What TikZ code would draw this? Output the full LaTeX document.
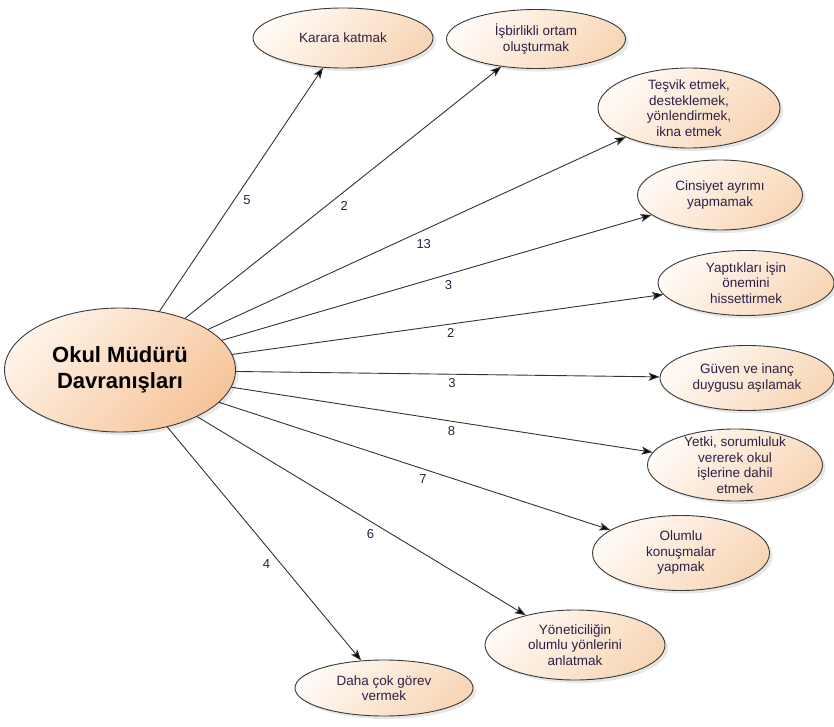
\documentclass[tikz,border=0pt]{standalone}
\usepackage{fontspec}
\setmainfont{Liberation Sans}
\usepackage{xcolor}
\usetikzlibrary{shapes.geometric, shadows, arrows.meta}

\definecolor{rim}{HTML}{3A3A3A}
\definecolor{ink}{HTML}{2E1F45}
\definecolor{peachhi}{HTML}{FFFAF5}
\definecolor{peachlo}{HTML}{F8D6B6}
\definecolor{roothi}{HTML}{FEF3E8}
\definecolor{rootlo}{HTML}{F7C49A}

\tikzset{
    topic/.style={ellipse, draw=rim, line width=0.9pt, inner sep=0pt,
        top color=peachhi, bottom color=peachlo, shading angle=45,
        drop shadow={shadow xshift=3pt, shadow yshift=-3pt, opacity=0.2}},
    topictext/.style={align=center, text=ink, font=\fontsize{13.5}{15.5}\selectfont},
    root/.style={topic, top color=roothi, bottom color=rootlo, shading angle=45,
        minimum width=231pt, minimum height=124pt, align=center,
        font=\bfseries\fontsize{22}{26}\selectfont},
    link/.style={draw=black!80, line width=0.9pt, -{Stealth[length=11pt, width=8pt, inset=2.5pt]},
        auto=right, every node/.style={text=ink, font=\fontsize{13}{15}\selectfont}}
}

\begin{document}
\begin{tikzpicture}[x=1pt, y=-1pt]
        \useasboundingbox (0,0) rectangle (834,727);

        \node[root] (0) at (120,370) {Okul Müdürü\\Davranışları};

        \node[topic, minimum width=180pt, minimum height=60pt,
            label={[topictext]center:Karara katmak}] (1) at (343,38) {};
        \node[topic, minimum width=179pt, minimum height=59pt,
            label={[topictext]center:{İşbirlikli ortam\\oluşturmak}}] (2) at (536,39) {};
        \node[topic, minimum width=182pt, minimum height=80pt,
            label={[topictext]center:{Teşvik etmek,\\desteklemek,\\yönlendirmek,\\ikna etmek}}] (3) at (689,108) {};
        \node[topic, minimum width=165pt, minimum height=70pt,
            label={[topictext]center:{Cinsiyet ayrımı\\yapmamak}}] (4) at (720,195) {};
        \node[topic, minimum width=176pt, minimum height=65pt,
            label={[topictext]center:{Yaptıkları işin\\önemini\\hissettirmek}}] (5) at (746,283) {};
        \node[topic, minimum width=174pt, minimum height=65pt,
            label={[topictext]center:{Güven ve inanç\\duygusu aşılamak}}] (6) at (747,378) {};
        \node[topic, minimum width=175pt, minimum height=72pt,
            label={[topictext]center:{Yetki, sorumluluk\\vererek okul\\işlerine dahil\\etmek}}] (7) at (735,465) {};
        \node[topic, minimum width=177pt, minimum height=75pt,
            label={[topictext]center:{Olumlu\\konuşmalar\\yapmak}}] (8) at (681,553) {};
        \node[topic, minimum width=180pt, minimum height=70pt,
            label={[topictext]center:{Yöneticiliğin\\olumlu yönlerini\\anlatmak}}] (9) at (575,645) {};
        \node[topic, minimum width=178pt, minimum height=56pt,
            label={[topictext]center:{Daha çok görev\\vermek}}] (10) at (384,688) {};

        \draw[link]
            (0) edge node[pos=.49] {5} (1)
            (0) edge node[pos=.48] {2} (2)
            (0) edge node[pos=.49] {13} (3)
            (0) edge node[pos=.51] {3} (4)
            (0) edge node[pos=.49] {2} (5)
            (0) edge node[pos=.51] {3} (6)
            (0) edge node[pos=.54] {8} (7)
            (0) edge node[pos=.54] {7} (8)
            (0) edge node[pos=.55] {6} (9)
            (0) edge node[pos=.55] {4} (10)
            ;
\end{tikzpicture}
\end{document}
